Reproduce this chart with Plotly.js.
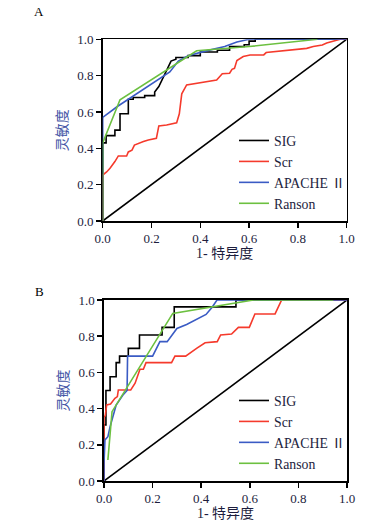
<!DOCTYPE html>
<html>
<head>
<meta charset="utf-8">
<script src="https://cdn.plot.ly/plotly-3.0.1.min.js"></script>
<style>html,body{margin:0;padding:0;background:#fff;}#chart{width:390px;height:529px;}</style>
</head>
<body>
<div id="chart"></div>
<script>
// ---- Panel A data ----
const sigA_x = [0, 0, 0.014, 0.014, 0.05, 0.05, 0.071, 0.071, 0.105, 0.105, 0.125, 0.125, 0.172, 0.172, 0.213, 0.213, 0.23, 0.24, 0.25, 0.26, 0.27, 0.28, 0.3, 0.3, 0.35, 0.35, 0.4, 0.4, 0.47, 0.47, 0.52, 0.52, 0.58, 0.58, 0.6, 0.6, 0.625, 0.625, 1.0];
const sigA_y = [0, 0.43, 0.43, 0.47, 0.47, 0.50, 0.50, 0.59, 0.59, 0.67, 0.67, 0.68, 0.68, 0.69, 0.69, 0.71, 0.74, 0.77, 0.79, 0.83, 0.85, 0.88, 0.89, 0.90, 0.90, 0.91, 0.91, 0.93, 0.93, 0.94, 0.94, 0.96, 0.96, 0.97, 0.97, 0.99, 0.99, 1.0, 1.0];
const scrA_x = [0, 0, 0.016, 0.03, 0.05, 0.064, 0.098, 0.105, 0.12, 0.13, 0.167, 0.187, 0.22, 0.23, 0.262, 0.303, 0.314, 0.324, 0.344, 0.4, 0.467, 0.49, 0.52, 0.53, 0.54, 0.55, 0.576, 0.604, 0.66, 0.67, 0.77, 0.836, 0.863, 0.9, 0.918, 0.945, 0.973, 1.0];
const scrA_y = [0, 0.253, 0.27, 0.29, 0.327, 0.358, 0.358, 0.38, 0.39, 0.418, 0.437, 0.446, 0.455, 0.523, 0.528, 0.54, 0.59, 0.70, 0.749, 0.761, 0.776, 0.81, 0.813, 0.835, 0.84, 0.883, 0.905, 0.914, 0.914, 0.927, 0.94, 0.95, 0.96, 0.969, 0.98, 0.99, 1.0, 1.0];
const apaA_x = [0, 0, 0.06, 0.15, 0.22, 0.275, 0.31, 0.35, 0.42, 0.5, 0.55, 0.6, 1.0];
const apaA_y = [0, 0.57, 0.63, 0.71, 0.77, 0.82, 0.88, 0.91, 0.935, 0.96, 0.985, 1.0, 1.0];
const ranA_x = [0, 0, 0.071, 0.385, 0.6, 0.88];
const ranA_y = [0, 0.43, 0.667, 0.937, 0.96, 1.0];

// ---- Panel B data ----
const sigB_x = [0, 0, 0.008, 0.008, 0.025, 0.025, 0.05, 0.05, 0.064, 0.064, 0.1, 0.1, 0.146, 0.146, 0.239, 0.239, 0.289, 0.289, 0.543, 0.543, 1.0];
const sigB_y = [0, 0.31, 0.31, 0.5, 0.5, 0.576, 0.576, 0.654, 0.654, 0.69, 0.69, 0.733, 0.733, 0.807, 0.807, 0.849, 0.849, 0.962, 0.962, 1.0, 1.0];
const scrB_x = [0, 0, 0.005, 0.011, 0.027, 0.045, 0.055, 0.059, 0.11, 0.128, 0.148, 0.162, 0.173, 0.278, 0.292, 0.336, 0.381, 0.416, 0.466, 0.48, 0.525, 0.553, 0.598, 0.621, 0.704, 0.731, 1.0];
const scrB_y = [0, 0.355, 0.36, 0.42, 0.425, 0.457, 0.466, 0.503, 0.503, 0.54, 0.617, 0.617, 0.654, 0.654, 0.69, 0.69, 0.733, 0.764, 0.77, 0.807, 0.812, 0.849, 0.849, 0.923, 0.923, 1.0, 1.0];
const apaB_x = [0, 0, 0.004, 0.016, 0.025, 0.04, 0.05, 0.078, 0.095, 0.097, 0.2, 0.23, 0.26, 0.3, 0.34, 0.42, 0.445, 0.465, 1.0];
const apaB_y = [0, 0.1, 0.227, 0.245, 0.3, 0.38, 0.42, 0.475, 0.5, 0.69, 0.69, 0.77, 0.77, 0.843, 0.865, 0.92, 0.96, 1.0, 1.0];
const ranB_x = [0.016, 0.033, 0.283, 0.615, 0.944];
const ranB_y = [0.116, 0.383, 0.926, 1.0, 1.0];

const refLine = [0, 1];
const seriesNames = ['SIG', 'Scr', 'APACHE Ⅱ', 'Ranson'];
const panelLabels = ['A', 'B'];
const tickVals = [0, 0.2, 0.4, 0.6, 0.8, 1.0];
const tickText = ['0.0', '0.2', '0.4', '0.6', '0.8', '1.0'];
const xTitle = '1- 特异度';
const yTitle = '灵敏度';

const colors = ['#000000', '#f53a2c', '#3a5bc4', '#6cc040'];
const serif = '"Liberation Serif", "Times New Roman", "Noto Sans CJK SC", serif';
const W = 390, H = 529;

function line(x, y, name, color, xa, ya, lg, show) {
  return {x: x, y: y, type: 'scatter', mode: 'lines', name: name,
    line: {color: color, width: 1.6}, xaxis: xa, yaxis: ya,
    legend: lg, showlegend: show, cliponaxis: false, hoverinfo: 'skip'};
}

const traces = [
  line(refLine, refLine, 'ref', '#000', 'x', 'y', 'legend', false),
  line(sigA_x, sigA_y, seriesNames[0], colors[0], 'x', 'y', 'legend', true),
  line(scrA_x, scrA_y, seriesNames[1], colors[1], 'x', 'y', 'legend', true),
  line(apaA_x, apaA_y, seriesNames[2], colors[2], 'x', 'y', 'legend', true),
  line(ranA_x, ranA_y, seriesNames[3], colors[3], 'x', 'y', 'legend', true),
  line(refLine, refLine, 'ref', '#000', 'x2', 'y2', 'legend2', false),
  line(sigB_x, sigB_y, seriesNames[0], colors[0], 'x2', 'y2', 'legend2', true),
  line(scrB_x, scrB_y, seriesNames[1], colors[1], 'x2', 'y2', 'legend2', true),
  line(apaB_x, apaB_y, seriesNames[2], colors[2], 'x2', 'y2', 'legend2', true),
  line(ranB_x, ranB_y, seriesNames[3], colors[3], 'x2', 'y2', 'legend2', true)
];

function xax(l, r, anchor) {
  return {domain: [l / W, r / W], anchor: anchor, range: [0, 1], tickvals: tickVals, ticktext: tickText,
    ticks: 'outside', ticklen: 5, tickwidth: 1.5, tickcolor: '#000', showline: true, linecolor: '#000',
    linewidth: 1.6, mirror: true, showgrid: false, zeroline: false, layer: 'below traces',
    tickfont: {family: serif, size: 13, color: '#1d1d3d'},
    title: {text: xTitle, font: {family: serif, size: 14, color: '#1d1d3d'}, standoff: 3}};
}
function yax(t, b, anchor) {
  return {domain: [1 - b / H, 1 - t / H], anchor: anchor, range: [0, 1], tickvals: tickVals, ticktext: tickText,
    ticks: 'outside', ticklen: 5, tickwidth: 1.5, tickcolor: '#000', showline: true, linecolor: '#000',
    linewidth: 1.6, mirror: true, showgrid: false, zeroline: false, layer: 'below traces',
    tickfont: {family: serif, size: 13, color: '#1d1d3d'},
    title: {text: yTitle, font: {family: serif, size: 14, color: '#4456a6'}, standoff: 6}};
}

const legendCommon = {bgcolor: 'rgba(0,0,0,0)', borderwidth: 0, font: {family: serif, size: 13.8, color: '#1d1d3d'},
  xanchor: 'left', yanchor: 'top', tracegroupgap: 0};

const layout = {
  width: W, height: H, margin: {l: 0, r: 0, t: 0, b: 0},
  paper_bgcolor: '#fff', plot_bgcolor: '#fff', showlegend: true,
  xaxis: xax(102.7, 346.7, 'y'),
  yaxis: yax(39.3, 221, 'x'),
  xaxis2: xax(104, 347, 'y2'),
  yaxis2: yax(300, 481, 'x2'),
  legend: Object.assign({x: 234 / W, y: 1 - 125 / H}, legendCommon),
  legend2: Object.assign({x: 234 / W, y: 1 - 385 / H}, legendCommon),
  annotations: [
    {text: panelLabels[0], xref: 'paper', yref: 'paper', x: 39 / W, y: 1 - 12 / H, showarrow: false,
      xanchor: 'center', yanchor: 'middle', font: {family: serif, size: 13, color: '#000'}},
    {text: panelLabels[1], xref: 'paper', yref: 'paper', x: 39 / W, y: 1 - 291 / H, showarrow: false,
      xanchor: 'center', yanchor: 'middle', font: {family: serif, size: 13, color: '#000'}}
  ]
};

Plotly.newPlot('chart', traces, layout, {displayModeBar: false, staticPlot: true});
</script>
</body>
</html>
